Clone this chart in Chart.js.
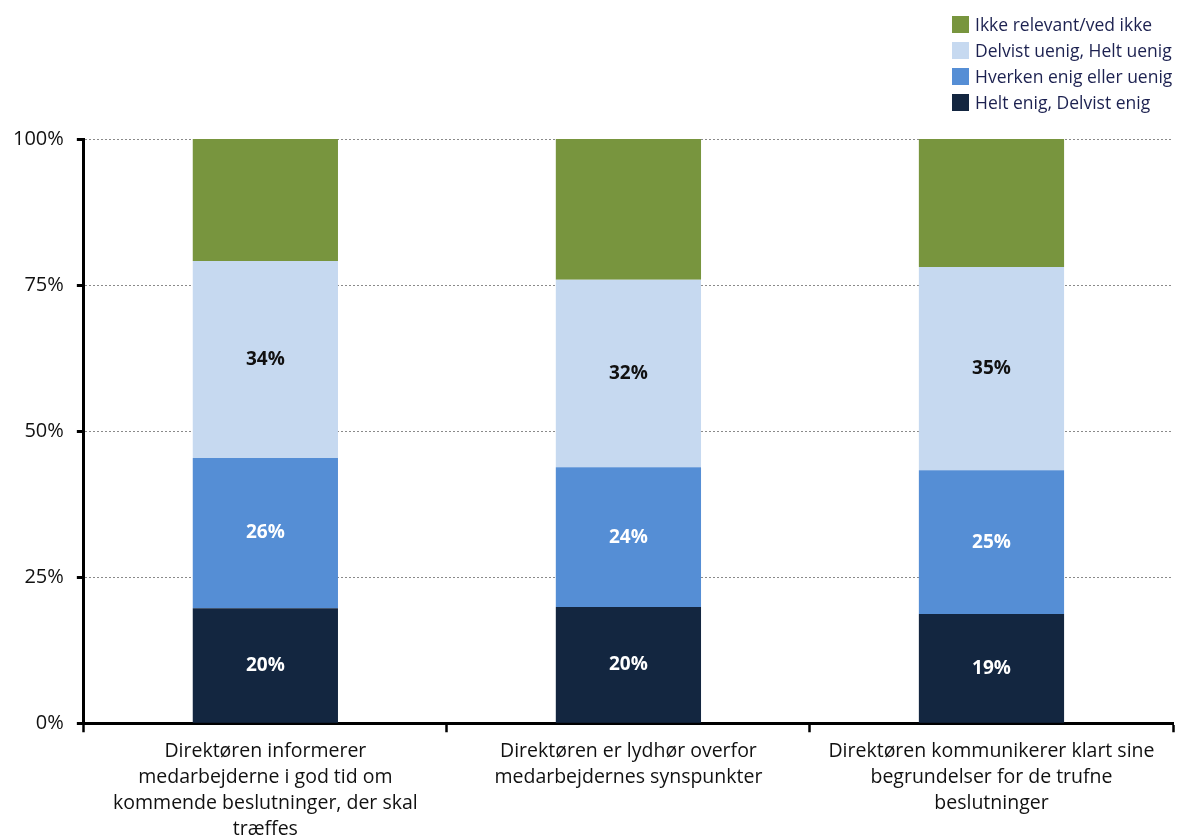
<!DOCTYPE html>
<html>
<head>
<meta charset="utf-8">
<script src="https://cdn.jsdelivr.net/npm/chart.js@4.4.1/dist/chart.umd.min.js"></script>
<style>
  html, body { margin: 0; padding: 0; background: #fff; overflow: hidden; }
  #wrap { position: relative; width: 1177px; height: 848px; }
  #legend { position: absolute; left: 952px; top: 11px; font-family: "Open Sans", sans-serif; font-size: 17.5px; color: #1c2150; }
  #legend div { display: flex; align-items: center; height: 26px; white-space: nowrap; }
  #legend span.box { display: inline-block; width: 17px; height: 17px; margin-right: 6px; }
</style>
</head>
<body>
<div id="wrap">
  <canvas id="chart" width="1177" height="848"></canvas>
  <div id="legend"></div>
</div>
<script>
const categories = [
    ["Direktøren informerer", "medarbejderne i god tid om", "kommende beslutninger, der skal", "træffes"],
    ["Direktøren er lydhør overfor", "medarbejdernes synspunkter"],
    ["Direktøren kommunikerer klart sine", "begrundelser for de trufne", "beslutninger"]
];
const seriesNames = ["Helt enig, Delvist enig", "Hverken enig eller uenig", "Delvist uenig, Helt uenig", "Ikke relevant/ved ikke"];
const heltEnig = [19.7, 19.9, 18.7];
const hverken = [25.7, 23.9, 24.6];
const uenig = [33.7, 32.1, 34.8];
const ikkeRelevant = [20.9, 24.1, 21.9];
const yTicks = [0, 25, 50, 75, 100];

const colors = ["#132640", "#558ed5", "#c6d9f0", "#78953e"];
const labelColors = ["#ffffff", "#ffffff", "#111111", null];

const font = "'Open Sans', sans-serif";

// value labels in the middle of each segment (green segment has none)
const segmentLabels = {
    id: 'segmentLabels',
    afterDatasetsDraw(chart) {
        const ctx = chart.ctx;
        ctx.save();
        ctx.font = "bold 19px " + font;
        ctx.textAlign = 'center';
        ctx.textBaseline = 'middle';
        chart.data.datasets.forEach((ds, i) => {
            if (!labelColors[i]) return;
            const meta = chart.getDatasetMeta(i);
            meta.data.forEach((bar, j) => {
                const y = (bar.y + bar.base) / 2;
                ctx.fillStyle = labelColors[i];
                ctx.fillText(Math.round(ds.data[j]) + '%', bar.x, y);
            });
        });
        ctx.restore();
    }
};

const chart = new Chart(document.getElementById('chart'), {
    type: 'bar',
    data: {
        labels: categories,
        datasets: [
            { label: seriesNames[0], data: heltEnig, backgroundColor: colors[0] },
            { label: seriesNames[1], data: hverken, backgroundColor: colors[1] },
            { label: seriesNames[2], data: uenig, backgroundColor: colors[2] },
            { label: seriesNames[3], data: ikkeRelevant, backgroundColor: colors[3] }
        ]
    },
    options: {
        responsive: false,
        animation: false,
        maintainAspectRatio: false,
        layout: { padding: { left: 0, right: 4, top: 139, bottom: 0 } },
        datasets: { bar: { categoryPercentage: 1, barPercentage: 0.4, borderWidth: 0 } },
        plugins: { legend: { display: false }, tooltip: { enabled: false } },
        scales: {
            x: {
                stacked: true,
                grid: { drawOnChartArea: false, tickLength: 9, tickColor: '#000', tickWidth: 2.5 },
                border: { color: '#000', width: 3 },
                ticks: { color: '#111', font: { family: font, size: 19.5, lineHeight: 1.33 }, padding: 6, maxRotation: 0, autoSkip: false }
            },
            y: {
                stacked: true,
                min: 0,
                max: 100,
                afterBuildTicks(axis) { axis.ticks = yTicks.map(v => ({ value: v })); },
                grid: { color: '#8a8a8a', lineWidth: 1, tickLength: 7, tickColor: '#000', tickWidth: 3, tickBorderDash: [] },
                border: { color: '#000', width: 3, dash: [2, 2] },
                ticks: { color: '#111', font: { family: font, size: 20 }, padding: 13, callback: v => v + '%' }
            }
        }
    },
    plugins: [segmentLabels]
});

// legend built from the datasets, listed top-down in reverse stacking order
const legend = document.getElementById('legend');
chart.data.datasets.slice().reverse().forEach(ds => {
    const row = document.createElement('div');
    row.innerHTML = '<span class="box" style="background:' + ds.backgroundColor + '"></span>' + ds.label;
    legend.appendChild(row);
});
</script>
</body>
</html>
